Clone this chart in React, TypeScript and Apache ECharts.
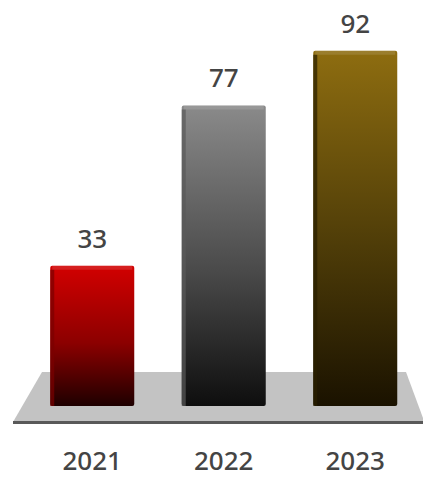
import React, { useEffect, useRef } from "react";
import * as echarts from "echarts";

const categories = ["2021", "2022", "2023"];
const values = [33, 77, 92];
const topColors = ["#d20000", "#8a8a8a", "#8e6d10"];
const midColors = ["#8c0000", "#4a4a4a", "#4e3c08"];
const bottomColors = ["#1e0000", "#0e0e0e", "#1a1200"];
const edgeColors = ["#7a0000", "#5a5a5a", "#2a2000"];

export default function App() {
  const ref = useRef<HTMLDivElement>(null);
  useEffect(() => {
    if (!ref.current) return;
    const chart = echarts.init(ref.current, null, { renderer: "svg" });
    const font = "'Noto Sans', 'Open Sans', sans-serif";
    chart.setOption({
      animation: false,
      grid: { left: 26.5, right: 2, top: 21.6, bottom: 93 },
      xAxis: {
        type: "category",
        data: categories,
        axisLine: { show: false },
        axisTick: { show: false },
        axisLabel: {
          fontSize: 26,
          fontWeight: 500,
          lineHeight: 22,
          color: "#444444",
          fontFamily: font,
          margin: 63,
        },
      },
      yAxis: { type: "value", min: 0, max: 100, show: false, splitLine: { show: false } },
      graphic: [
        {
          type: "polygon",
          z: -10,
          shape: { points: [[42, 372], [406, 372], [423, 418], [423, 422], [13, 422]] },
          style: { fill: "#c3c3c3" },
        },
        {
          type: "rect",
          z: -9,
          shape: { x: 13, y: 421, width: 410, height: 3 },
          style: { fill: "#595959" },
        },
      ],
      series: [
        {
          type: "custom",
          data: values.map((v, i) => [i, v]),
          encode: { x: 0, y: 1 },
          renderItem: (params: any, api: any) => {
            const idx = params.dataIndex;
            const v = api.value(1);
            const top = api.coord([api.value(0), v]);
            const base = api.coord([api.value(0), 0]);
            const w = 84;
            const left = top[0] - w / 2;
            const bottom = base[1] + 20;
            const h = bottom - top[1];
            return {
              type: "group",
              children: [
                {
                  type: "rect",
                  shape: { x: left, y: top[1], width: w, height: h, r: 2 },
                  style: {
                    fill: new echarts.graphic.LinearGradient(0, 0, 0, 1, [
                      { offset: 0, color: topColors[idx] },
                      { offset: 0.55, color: midColors[idx] },
                      { offset: 1, color: bottomColors[idx] },
                    ]),
                  },
                },
                {
                  type: "rect",
                  shape: { x: left, y: top[1] + 4, width: 4, height: h - 4 },
                  style: { fill: edgeColors[idx], opacity: 0.7 },
                },
                {
                  type: "rect",
                  shape: { x: left + 2, y: top[1], width: w - 4, height: 4 },
                  style: { fill: "rgba(255,255,255,0.12)" },
                },
                {
                  type: "text",
                  style: {
                    text: String(v),
                    x: top[0],
                    y: top[1] - 28,
                    align: "center",
                    verticalAlign: "middle",
                    fontSize: 26,
                    fontWeight: 500,
                    fontFamily: font,
                    fill: "#444444",
                  },
                },
              ],
            };
          },
        },
      ],
    });
    return () => chart.dispose();
  }, []);
  return <div ref={ref} style={{ width: 423, height: 479, position: "absolute", left: 0, top: 0 }} />;
}
